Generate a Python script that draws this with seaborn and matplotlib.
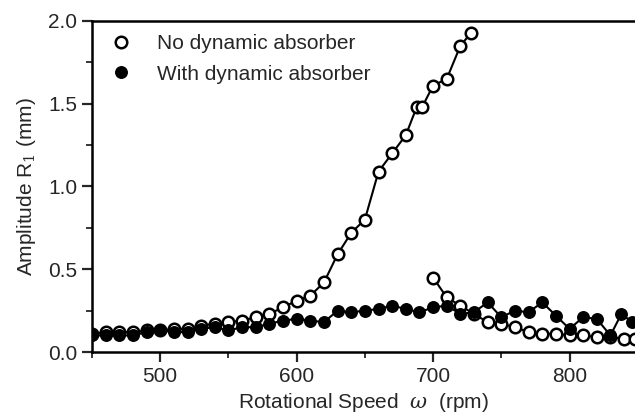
import matplotlib
matplotlib.use("Agg")
import matplotlib.pyplot as plt
from matplotlib.ticker import MultipleLocator
from matplotlib.lines import Line2D
import seaborn as sns
import pandas as pd

# --- data ---
no_up_rpm = [450, 460, 470, 480, 490, 500, 510, 520, 530, 540, 550, 560, 570, 580,
             590, 600, 610, 620, 630, 640, 650, 660, 670, 680, 688, 692, 700, 710,
             720, 728]
no_up_amp = [0.11, 0.12, 0.12, 0.12, 0.13, 0.13, 0.14, 0.14, 0.16, 0.17, 0.18, 0.19,
             0.21, 0.23, 0.27, 0.31, 0.34, 0.42, 0.59, 0.72, 0.80, 1.09, 1.20, 1.31,
             1.48, 1.48, 1.61, 1.65, 1.85, 1.93]
no_down_rpm = [700, 710, 720, 730, 740, 750, 760, 770, 780, 790, 800, 810, 820, 830, 840, 848]
no_down_amp = [0.45, 0.33, 0.28, 0.23, 0.18, 0.17, 0.15, 0.12, 0.11, 0.11, 0.10, 0.10,
               0.09, 0.09, 0.08, 0.08]
with_rpm = [450, 460, 470, 480, 490, 500, 510, 520, 530, 540, 550, 560, 570, 580,
            590, 600, 610, 620, 630, 640, 650, 660, 670, 680, 690, 700, 710, 720,
            730, 740, 750, 760, 770, 780, 790, 800, 810, 820, 830, 838, 846]
with_amp = [0.10, 0.10, 0.10, 0.10, 0.12, 0.13, 0.12, 0.12, 0.14, 0.15, 0.13, 0.15,
            0.15, 0.17, 0.19, 0.20, 0.19, 0.18, 0.25, 0.24, 0.25, 0.26, 0.28, 0.26,
            0.24, 0.27, 0.28, 0.23, 0.24, 0.30, 0.21, 0.25, 0.24, 0.30, 0.22, 0.14,
            0.21, 0.20, 0.10, 0.23, 0.18]
legend_labels = ["No dynamic absorber", "With dynamic absorber"]

sns.set_style("ticks")
plt.rcParams["font.family"] = ["Liberation Sans", "DejaVu Sans"]
plt.rcParams["mathtext.fontset"] = "dejavuserif"

fig = plt.figure(figsize=(6.35, 4.19), dpi=100)
ax = fig.add_axes([92 / 635, (419 - 352) / 419, 1 - 92 / 635, (352 - 21) / 419])

df_up = pd.DataFrame({"rpm": no_up_rpm, "amp": no_up_amp})
df_down = pd.DataFrame({"rpm": no_down_rpm, "amp": no_down_amp})
df_with = pd.DataFrame({"rpm": with_rpm, "amp": with_amp})

MS = 8.3
open_kw = dict(color="black", marker="o", markersize=MS, markerfacecolor="white",
               markeredgecolor="black", markeredgewidth=1.8, linewidth=1.5,
               estimator=None, sort=False, legend=False)
sns.lineplot(data=df_up, x="rpm", y="amp", ax=ax, **open_kw)
sns.lineplot(data=df_down, x="rpm", y="amp", ax=ax, **open_kw)
sns.lineplot(data=df_with, x="rpm", y="amp", ax=ax, color="black", marker="o",
             markersize=MS, markerfacecolor="black", markeredgecolor="black",
             markeredgewidth=1.0, linewidth=1.5, estimator=None, sort=False,
             legend=False)

ax.set_xlim(450, 848)
ax.set_ylim(0, 2.0)
ax.xaxis.set_major_locator(MultipleLocator(100))
ax.xaxis.set_minor_locator(MultipleLocator(50))
ax.yaxis.set_major_locator(MultipleLocator(0.5))
ax.yaxis.set_minor_locator(MultipleLocator(0.25))
ax.yaxis.set_major_formatter(matplotlib.ticker.FormatStrFormatter("%.1f"))
ax.tick_params(which="major", direction="out", length=7, width=1.6, labelsize=15,
               top=False, right=False)
ax.tick_params(which="minor", direction="out", length=4, width=1.3, top=False, right=False)
for s in ["left", "bottom", "top"]:
    ax.spines[s].set_linewidth(1.8)
    ax.spines[s].set_color("black")
ax.spines["right"].set_visible(False)

ax.set_xlabel(r"Rotational Speed  $\omega$  (rpm)", fontsize=15, labelpad=4)
ax.set_ylabel(r"Amplitude R$_1$ (mm)", fontsize=15, labelpad=7)

handles = [
    Line2D([], [], linestyle="none", marker="o", markersize=MS, markerfacecolor="white",
           markeredgecolor="black", markeredgewidth=1.8),
    Line2D([], [], linestyle="none", marker="o", markersize=MS, markerfacecolor="black",
           markeredgecolor="black"),
]
ax.legend(handles, legend_labels, loc="upper left", frameon=False, fontsize=15,
          handletextpad=0.7, labelspacing=0.55, borderaxespad=0.0,
          bbox_to_anchor=(0.0, 0.985))

fig.savefig("out.png", dpi=100)
